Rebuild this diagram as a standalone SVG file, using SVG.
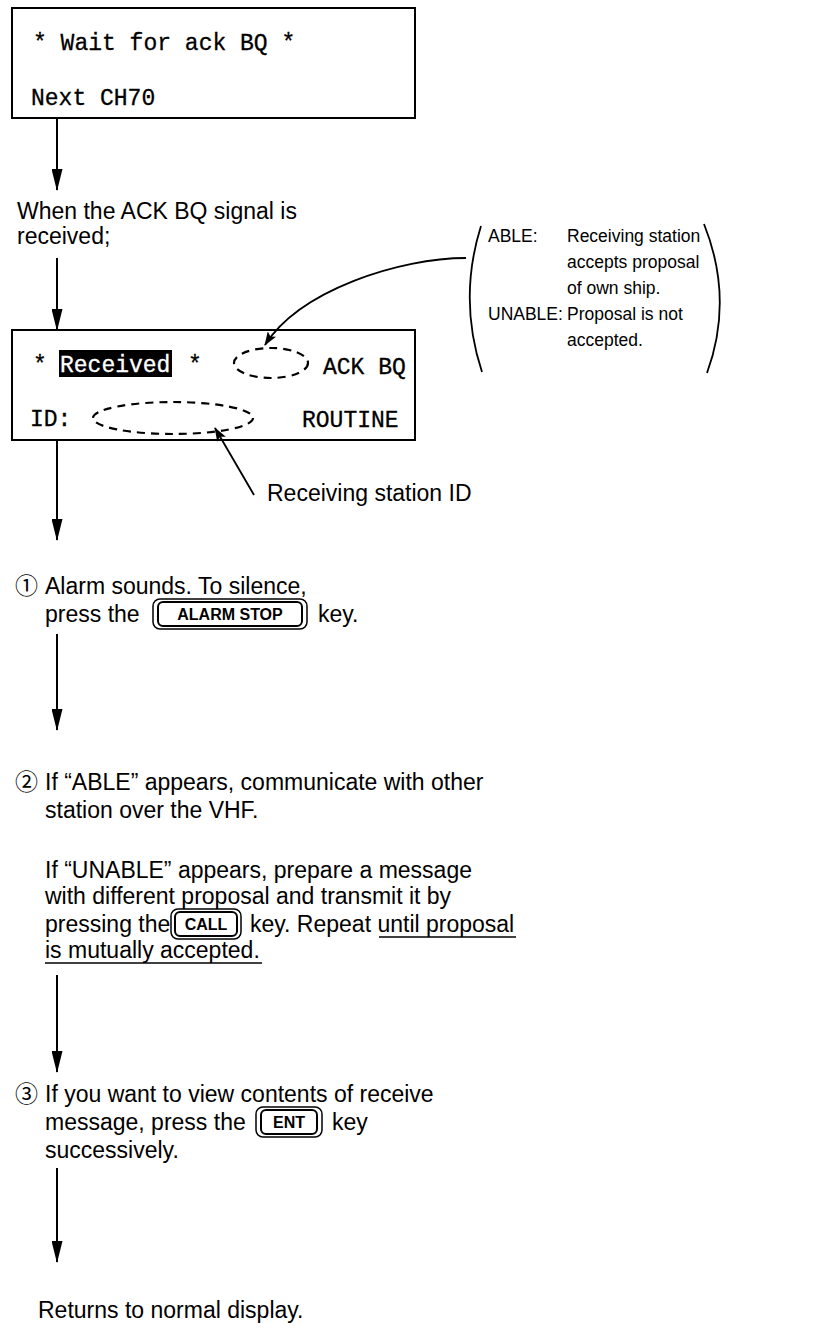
<svg xmlns="http://www.w3.org/2000/svg" width="816" height="1335" viewBox="0 0 816 1335">
<style>
.bg{fill:#fff}
.box{fill:#fff;stroke:#000;stroke-width:2}
.mono{font-family:"Liberation Mono","Courier New",monospace;font-size:23px;fill:#000;stroke:#000;stroke-width:0.3}
.monow{font-family:"Liberation Mono","Courier New",monospace;font-size:23px;fill:#fff;stroke:#fff;stroke-width:0.3}
.t{font-family:"Liberation Sans",Arial,Helvetica,sans-serif;font-size:23px;fill:#000}
.s{font-family:"Liberation Sans",Arial,Helvetica,sans-serif;font-size:17.5px;fill:#000}
.num{font-family:"Noto Sans CJK JP","DejaVu Sans",sans-serif;font-size:23px;fill:#000}
.key{font-family:"Liberation Sans",Arial,Helvetica,sans-serif;font-size:16px;font-weight:bold;fill:#000}
.ko{fill:#fff;stroke:#000;stroke-width:1.5}
.ki{fill:none;stroke:#000;stroke-width:2}
.ln{fill:none;stroke:#000;stroke-width:2}
.fl{fill:none;stroke:#000;stroke-width:1.8}
.dash{fill:none;stroke:#000;stroke-width:2.2;stroke-dasharray:8 6}
.ul{stroke:#000;stroke-width:1.5}
</style>
<defs>
<marker id="ah" markerUnits="userSpaceOnUse" markerWidth="22" markerHeight="11" refX="21" refY="5.5" orient="auto">
<path d="M0,0 L22,5.5 L0,11 z" fill="#000"/>
</marker>
<marker id="sh" markerUnits="userSpaceOnUse" markerWidth="14" markerHeight="10" refX="13" refY="5" orient="auto">
<path d="M0,0 L14,5 L0,10 L3,5 z" fill="#000"/>
</marker>
</defs>
<rect class="bg" x="0" y="0" width="816" height="1335"/>

<g id="display-wait">
<rect class="box" x="12" y="8" width="403" height="110"/>
<text class="mono" x="33" y="50">* Wait for ack BQ *</text>
<text class="mono" x="31" y="105">Next CH70</text>
</g>

<g id="ack-received-text">
<text class="t" x="17" y="219">When the ACK BQ signal is</text>
<text class="t" x="17" y="244">received;</text>
</g>

<g id="display-received">
<rect class="box" x="12" y="330" width="403" height="110"/>
<rect x="59" y="350" width="113" height="27" fill="#000"/>
<text class="mono" x="33" y="372">*</text>
<text class="monow" x="60" y="372">Received</text>
<text class="mono" x="188" y="372">*</text>
<ellipse class="dash" cx="271" cy="363" rx="37" ry="15"/>
<text class="mono" x="323" y="374">ACK BQ</text>
<text class="mono" x="30" y="426">ID:</text>
<ellipse class="dash" cx="173" cy="418" rx="80" ry="16"/>
<text class="mono" x="302" y="427">ROUTINE</text>
</g>

<g id="able-note">
<path class="fl" d="M481,226 Q458,299 482,372"/>
<path class="fl" d="M704,224 Q734,299 707,373"/>
<text class="s" x="488" y="242">ABLE:</text>
<text class="s" x="567" y="242">Receiving station</text>
<text class="s" x="567" y="268">accepts proposal</text>
<text class="s" x="567" y="294">of own ship.</text>
<text class="s" x="488" y="320">UNABLE:</text>
<text class="s" x="567" y="320">Proposal is not</text>
<text class="s" x="567" y="346">accepted.</text>
</g>

<g id="station-id-label">
<text class="t" x="267" y="501">Receiving station ID</text>
</g>

<g id="step1">
<text class="num" x="15" y="594">①</text>
<text class="t" x="45" y="594">Alarm sounds. To silence,</text>
<text class="t" x="45" y="622">press the</text>
<rect class="ko" x="153" y="599" width="154" height="30" rx="7"/>
<rect class="ki" x="158" y="602" width="144" height="24" rx="5"/>
<text class="key" x="230" y="620" text-anchor="middle">ALARM STOP</text>
<text class="t" x="318" y="622">key.</text>
</g>

<g id="step2">
<text class="num" x="15" y="790">②</text>
<text class="t" x="45" y="790">If “ABLE” appears, communicate with other</text>
<text class="t" x="45" y="818">station over the VHF.</text>
<text class="t" x="45" y="878">If “UNABLE” appears, prepare a message</text>
<text class="t" x="45" y="904">with different proposal and transmit it by</text>
<text class="t" x="45" y="932">pressing the</text>
<rect class="ko" x="171" y="909" width="70" height="30" rx="7"/>
<rect class="ki" x="175" y="912" width="62" height="24" rx="5"/>
<text class="key" x="206" y="930" text-anchor="middle">CALL</text>
<text class="t" x="250" y="932">key. Repeat until proposal</text>
<line class="ul" x1="379" y1="937" x2="516" y2="937"/>
<text class="t" x="45" y="958">is mutually accepted.</text>
<line class="ul" x1="45" y1="963" x2="262" y2="963"/>
</g>

<g id="step3">
<text class="num" x="15" y="1102">③</text>
<text class="t" x="45" y="1102">If you want to view contents of receive</text>
<text class="t" x="45" y="1130">message, press the</text>
<rect class="ko" x="256" y="1107" width="66" height="30" rx="7"/>
<rect class="ki" x="261" y="1110" width="56" height="24" rx="5"/>
<text class="key" x="289" y="1128" text-anchor="middle">ENT</text>
<text class="t" x="332" y="1130">key</text>
<text class="t" x="45" y="1158">successively.</text>
</g>

<g id="end">
<text class="t" x="38" y="1318">Returns to normal display.</text>
</g>

<g id="connectors">
<line class="ln" x1="57" y1="118" x2="57" y2="190" marker-end="url(#ah)"/>
<line class="ln" x1="57" y1="258" x2="57" y2="330" marker-end="url(#ah)"/>
<line class="ln" x1="57" y1="440" x2="57" y2="540" marker-end="url(#ah)"/>
<line class="ln" x1="57" y1="634" x2="57" y2="730" marker-end="url(#ah)"/>
<line class="ln" x1="57" y1="975" x2="57" y2="1072" marker-end="url(#ah)"/>
<line class="ln" x1="57" y1="1168" x2="57" y2="1262" marker-end="url(#ah)"/>
<path class="fl" d="M466,258 C400,258 300,290 265,345" marker-end="url(#sh)"/>
<line class="fl" x1="254" y1="495" x2="215" y2="428" marker-end="url(#sh)"/>
</g>
</svg>
